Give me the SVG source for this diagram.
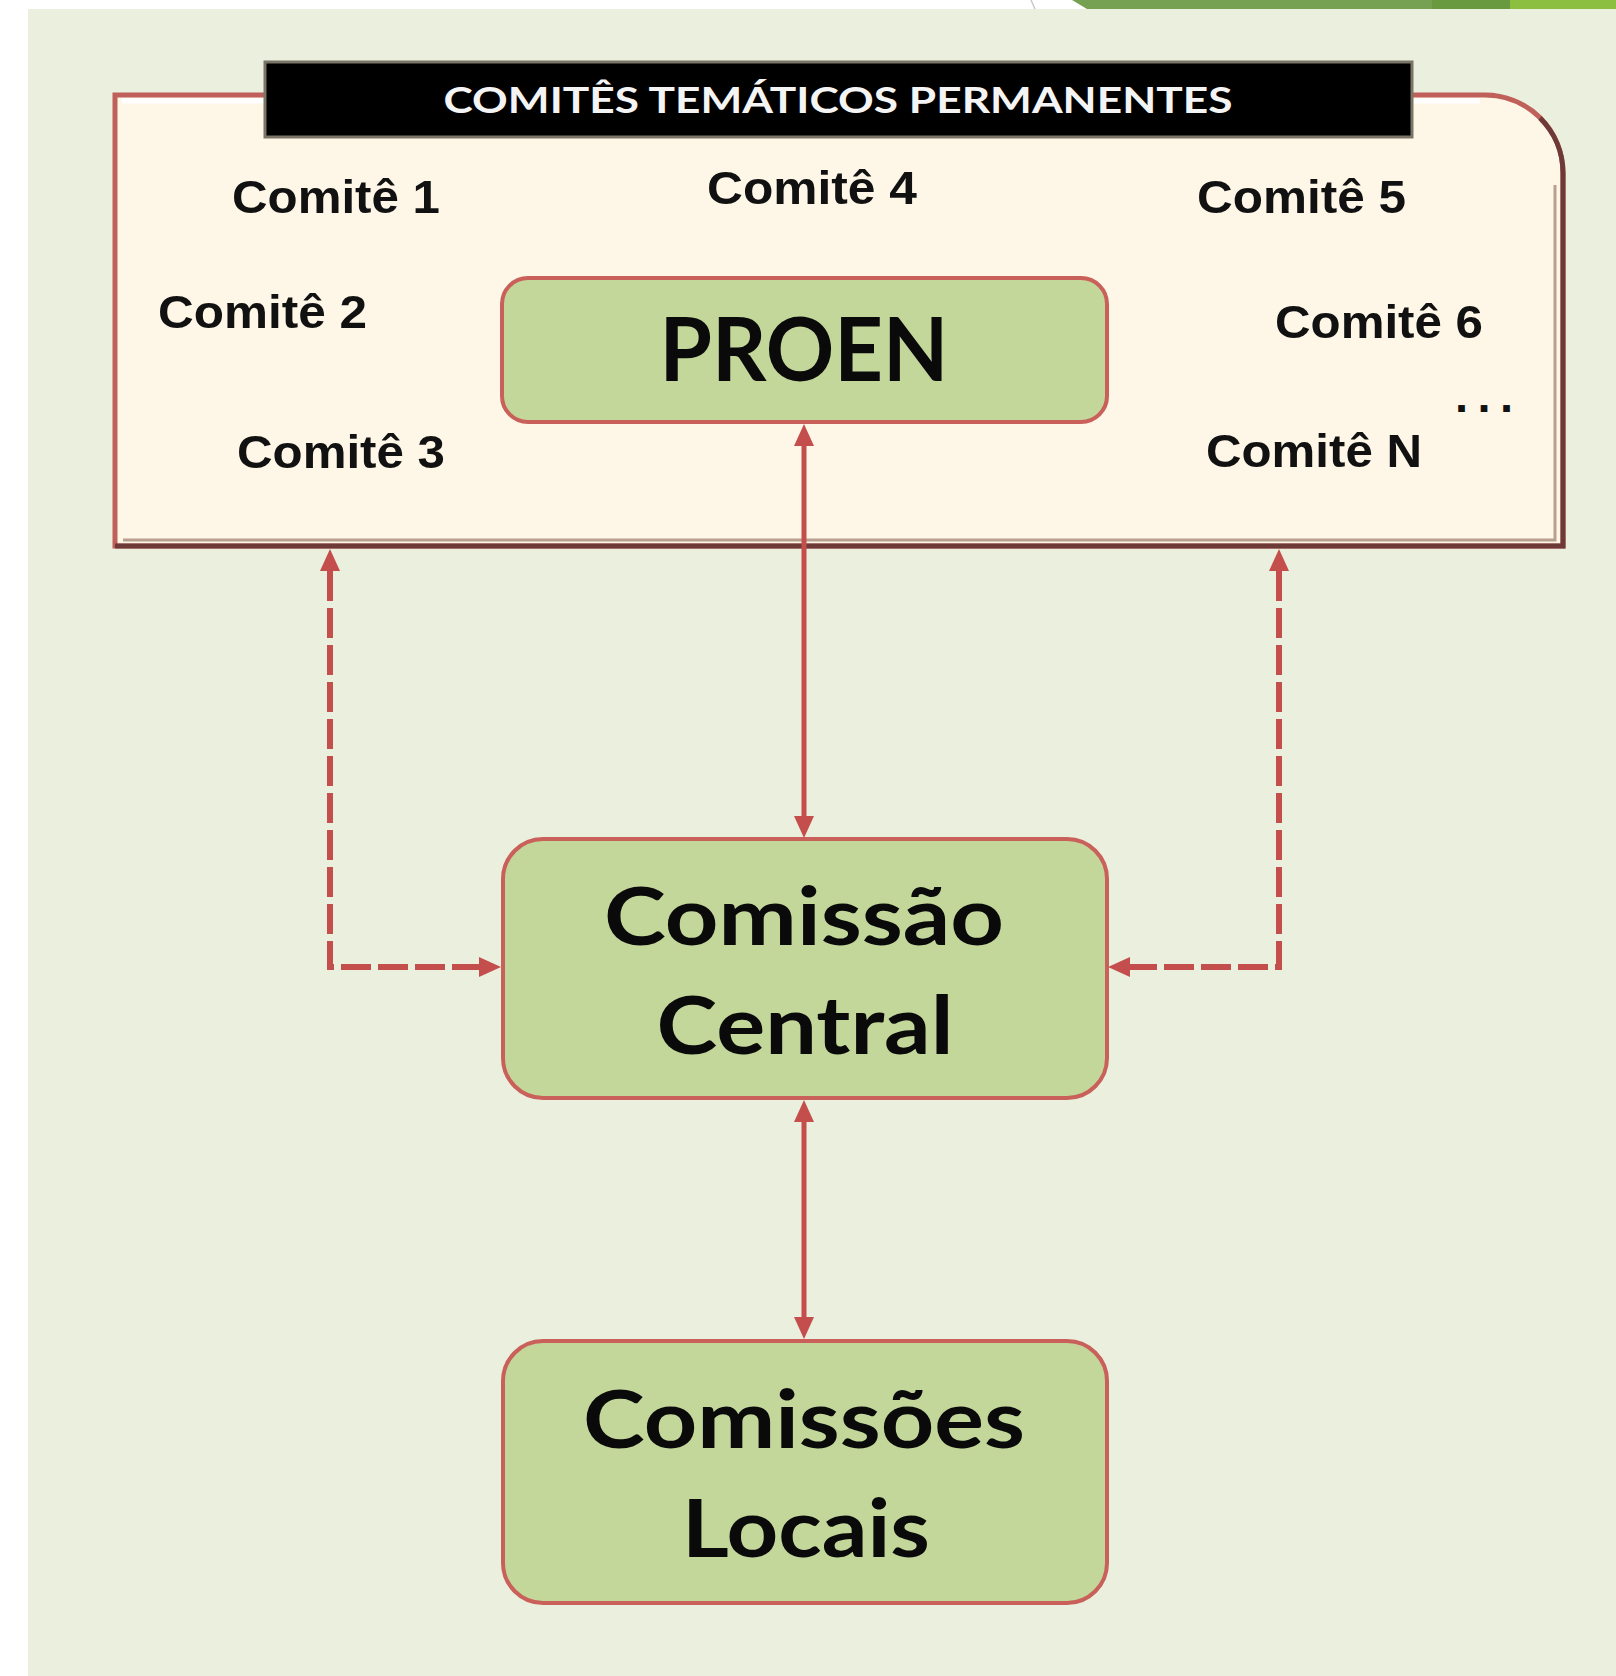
<svg xmlns="http://www.w3.org/2000/svg" width="1616" height="1676" viewBox="0 0 1616 1676">
  <defs>
    <style>
      .bg { fill: #EAEFDE; }
      .box { fill: #C4D79B; stroke: #C9605A; stroke-width: 4; }
      .big { font-family: Lato, "Liberation Sans", Arial, sans-serif; font-weight: 700; fill: #0A0A0A; text-anchor: middle; }
      .com { font-family: "Liberation Sans", Arial, sans-serif; font-weight: 700; font-size: 47px; fill: #111111; }
      .hdr { font-family: Lato, "Liberation Sans", Arial, sans-serif; font-weight: 700; font-size: 36px; fill: #F4F4F4; text-anchor: middle; }
      .solid { fill: none; stroke: #C44E4C; stroke-width: 5; }
      .dash { fill: none; stroke: #C44E4C; stroke-width: 6; stroke-dasharray: 30 7; }
    </style>
    <marker id="arr" markerUnits="userSpaceOnUse" markerWidth="24" markerHeight="24" viewBox="0 -12 24 24" refX="0" refY="0" orient="auto-start-reverse">
      <path d="M0,-10 L22,0 L0,10 Z" fill="#C44E4C"/>
    </marker>
  </defs>

  <!-- page background -->
  <rect x="0" y="0" width="1616" height="1676" fill="#FFFFFF"/>
  <rect class="bg" x="28" y="9" width="1588" height="1667"/>
  <line x1="1031" y1="0" x2="1035" y2="9" stroke="#C8C8C8" stroke-width="1.5"/>
  <polygon points="1072,0 1432,0 1432,9 1087,9" fill="#76A052"/>
  <rect x="1432" y="0" width="78" height="9" fill="#6A9A40"/>
  <rect x="1510" y="0" width="106" height="9" fill="#8CBF40"/>

  <!-- container: Comitês temáticos permanentes -->
  <g id="node-comites">
    <path d="M115,95 H1485 A78,78 0 0 1 1563,173 V546 H115 Z" fill="#FEF7E8" stroke="#C0605B" stroke-width="5"/>
    <line x1="122" y1="101" x2="1480" y2="101" stroke="#FFFFFF" stroke-width="5"/>
    <path d="M1555,185 V540 H123" fill="none" stroke="#B8A090" stroke-width="3"/>
    <path d="M1540,118 A78,78 0 0 1 1563,173 V546 H115" fill="none" stroke="#6E3A38" stroke-width="5"/>
    <rect x="265" y="62" width="1147" height="75" fill="#000000" stroke="#7A7566" stroke-width="3"/>
    <text class="hdr" x="838" y="113" textLength="789" lengthAdjust="spacingAndGlyphs">COMITÊS TEMÁTICOS PERMANENTES</text>
    <text class="com" x="232" y="213" textLength="208" lengthAdjust="spacingAndGlyphs">Comitê 1</text>
    <text class="com" x="158" y="328" textLength="209" lengthAdjust="spacingAndGlyphs">Comitê 2</text>
    <text class="com" x="237" y="468" textLength="208" lengthAdjust="spacingAndGlyphs">Comitê 3</text>
    <text class="com" x="707" y="204" textLength="210" lengthAdjust="spacingAndGlyphs">Comitê 4</text>
    <text class="com" x="1197" y="213" textLength="209" lengthAdjust="spacingAndGlyphs">Comitê 5</text>
    <text class="com" x="1275" y="338" textLength="208" lengthAdjust="spacingAndGlyphs">Comitê 6</text>
    <text class="com" x="1455" y="412" textLength="58" lengthAdjust="spacing">...</text>
    <text class="com" x="1206" y="467" textLength="216" lengthAdjust="spacingAndGlyphs">Comitê N</text>
  </g>

  <g id="node-proen">
    <rect class="box" x="502" y="278" width="605" height="144" rx="26" ry="26"/>
    <text class="big" x="804" y="381" font-size="88" textLength="289" lengthAdjust="spacingAndGlyphs">PROEN</text>
  </g>

  <g id="node-central">
    <rect class="box" x="503" y="839" width="604" height="259" rx="40" ry="40"/>
    <text class="big" x="804" y="945" font-size="81" textLength="400" lengthAdjust="spacingAndGlyphs">Comissão</text>
    <text class="big" x="805" y="1054" font-size="81" textLength="297" lengthAdjust="spacingAndGlyphs">Central</text>
  </g>

  <g id="node-locais">
    <rect class="box" x="503" y="1341" width="604" height="262" rx="40" ry="40"/>
    <text class="big" x="804" y="1448" font-size="80" textLength="442" lengthAdjust="spacingAndGlyphs">Comissões</text>
    <text class="big" x="806" y="1557" font-size="80" textLength="248" lengthAdjust="spacingAndGlyphs">Locais</text>
  </g>

  <g id="connectors">
    <path class="solid" d="M804,446 V816" marker-start="url(#arr)" marker-end="url(#arr)"/>
    <path class="solid" d="M804,1122 V1317" marker-start="url(#arr)" marker-end="url(#arr)"/>
    <path class="dash" d="M330,571 V967 H479" marker-start="url(#arr)" marker-end="url(#arr)"/>
    <path class="dash" d="M1279,571 V967 H1130" marker-start="url(#arr)" marker-end="url(#arr)"/>
  </g>
</svg>
